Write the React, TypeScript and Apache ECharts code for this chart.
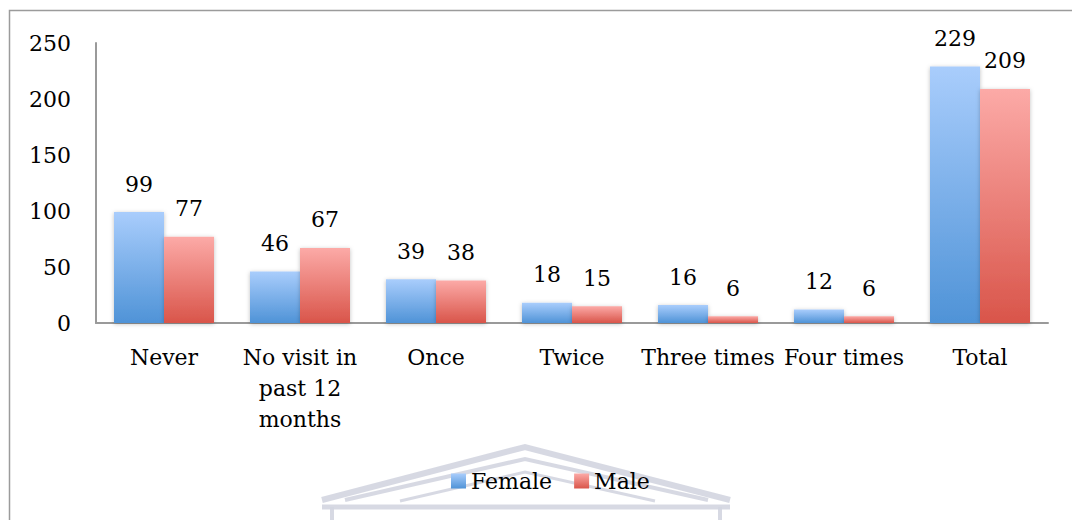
import React, { useEffect, useRef } from "react";
import * as echarts from "echarts";

const categories = [
  "Never",
  "No visit in\npast 12\nmonths",
  "Once",
  "Twice",
  "Three times",
  "Four times",
  "Total",
];
const femaleValues = [99, 46, 39, 18, 16, 12, 229];
const maleValues = [77, 67, 38, 15, 6, 6, 209];
const seriesNames = ["Female", "Male"];

const FONT = "DejaVu Serif";

const grad = (top: string, bottom: string) =>
  new echarts.graphic.LinearGradient(0, 0, 0, 1, [
    { offset: 0, color: top },
    { offset: 1, color: bottom },
  ]);

export default function App() {
  const ref = useRef<HTMLDivElement>(null);
  useEffect(() => {
    if (!ref.current) return;
    const chart = echarts.init(ref.current, null, { renderer: "svg" });
    const wm = "#d3d5e0";
    const wmLine = (points: number[][], w: number) => ({
      type: "polyline",
      z: -10,
      silent: true,
      shape: { points },
      style: { stroke: wm, lineWidth: w, fill: "none", opacity: 0.9 },
    });
    const labelCommon = {
      show: true,
      position: "top",
      distance: 17,
      fontFamily: FONT,
      fontSize: 22,
      lineHeight: 22,
      color: "#000",
    };
    chart.setOption({
      animation: false,
      backgroundColor: "#fff",
      graphic: [
        {
          type: "rect",
          z: -20,
          silent: true,
          shape: { x: 9.5, y: 10.5, width: 1100, height: 600 },
          style: { fill: "none", stroke: "#9b9b9b", lineWidth: 1.5 },
        },
        wmLine([[322, 500], [525, 447], [730, 500]], 6),
        wmLine([[345, 500], [525, 459], [708, 500]], 4),
        wmLine([[400, 501], [525, 472], [655, 501]], 3),
        wmLine([[322, 507], [730, 507]], 5),
        wmLine([[332, 507], [332, 525]], 4),
        wmLine([[720, 507], [720, 525]], 4),
      ],
      grid: { left: 96, right: 24, top: 43, bottom: 197 },
      legend: {
        data: seriesNames,
        left: 451,
        top: 470,
        padding: 0,
        itemWidth: 15,
        itemHeight: 15,
        itemGap: 22,
        icon: "rect",
        textStyle: { fontFamily: FONT, fontSize: 22, lineHeight: 22, color: "#000" },
      },
      xAxis: {
        type: "category",
        data: categories,
        axisLine: { show: true, lineStyle: { color: "#9a9a9a", width: 2 } },
        axisTick: { show: false },
        axisLabel: {
          interval: 0,
          margin: 19,
          fontFamily: FONT,
          fontSize: 22,
          lineHeight: 31,
          color: "#000",
        },
      },
      yAxis: {
        type: "value",
        min: 0,
        max: 250,
        interval: 50,
        axisLine: { show: true, lineStyle: { color: "#9a9a9a", width: 2 } },
        axisTick: { show: false },
        splitLine: { show: false },
        axisLabel: {
          margin: 25,
          fontFamily: FONT,
          fontSize: 22,
          color: "#000",
          padding: [8, 0, 0, 0],
        },
      },
      series: [
        {
          name: seriesNames[0],
          type: "bar",
          data: femaleValues,
          barWidth: 50,
          barGap: "0%",
          itemStyle: {
            color: grad("#a9cdfc", "#4f93d7"),
            shadowColor: "rgba(0,0,0,0.25)",
            shadowBlur: 4,
            shadowOffsetY: 1,
          },
          label: labelCommon,
        },
        {
          name: seriesNames[1],
          type: "bar",
          data: maleValues,
          barWidth: 50,
          barGap: "0%",
          itemStyle: {
            color: grad("#fcaaa7", "#d9554a"),
            shadowColor: "rgba(0,0,0,0.25)",
            shadowBlur: 4,
            shadowOffsetY: 1,
          },
          label: labelCommon,
        },
      ],
    });
    return () => chart.dispose();
  }, []);
  return (
    <div
      ref={ref}
      style={{ position: "fixed", left: 0, top: 0, width: 1072, height: 520 }}
    />
  );
}
